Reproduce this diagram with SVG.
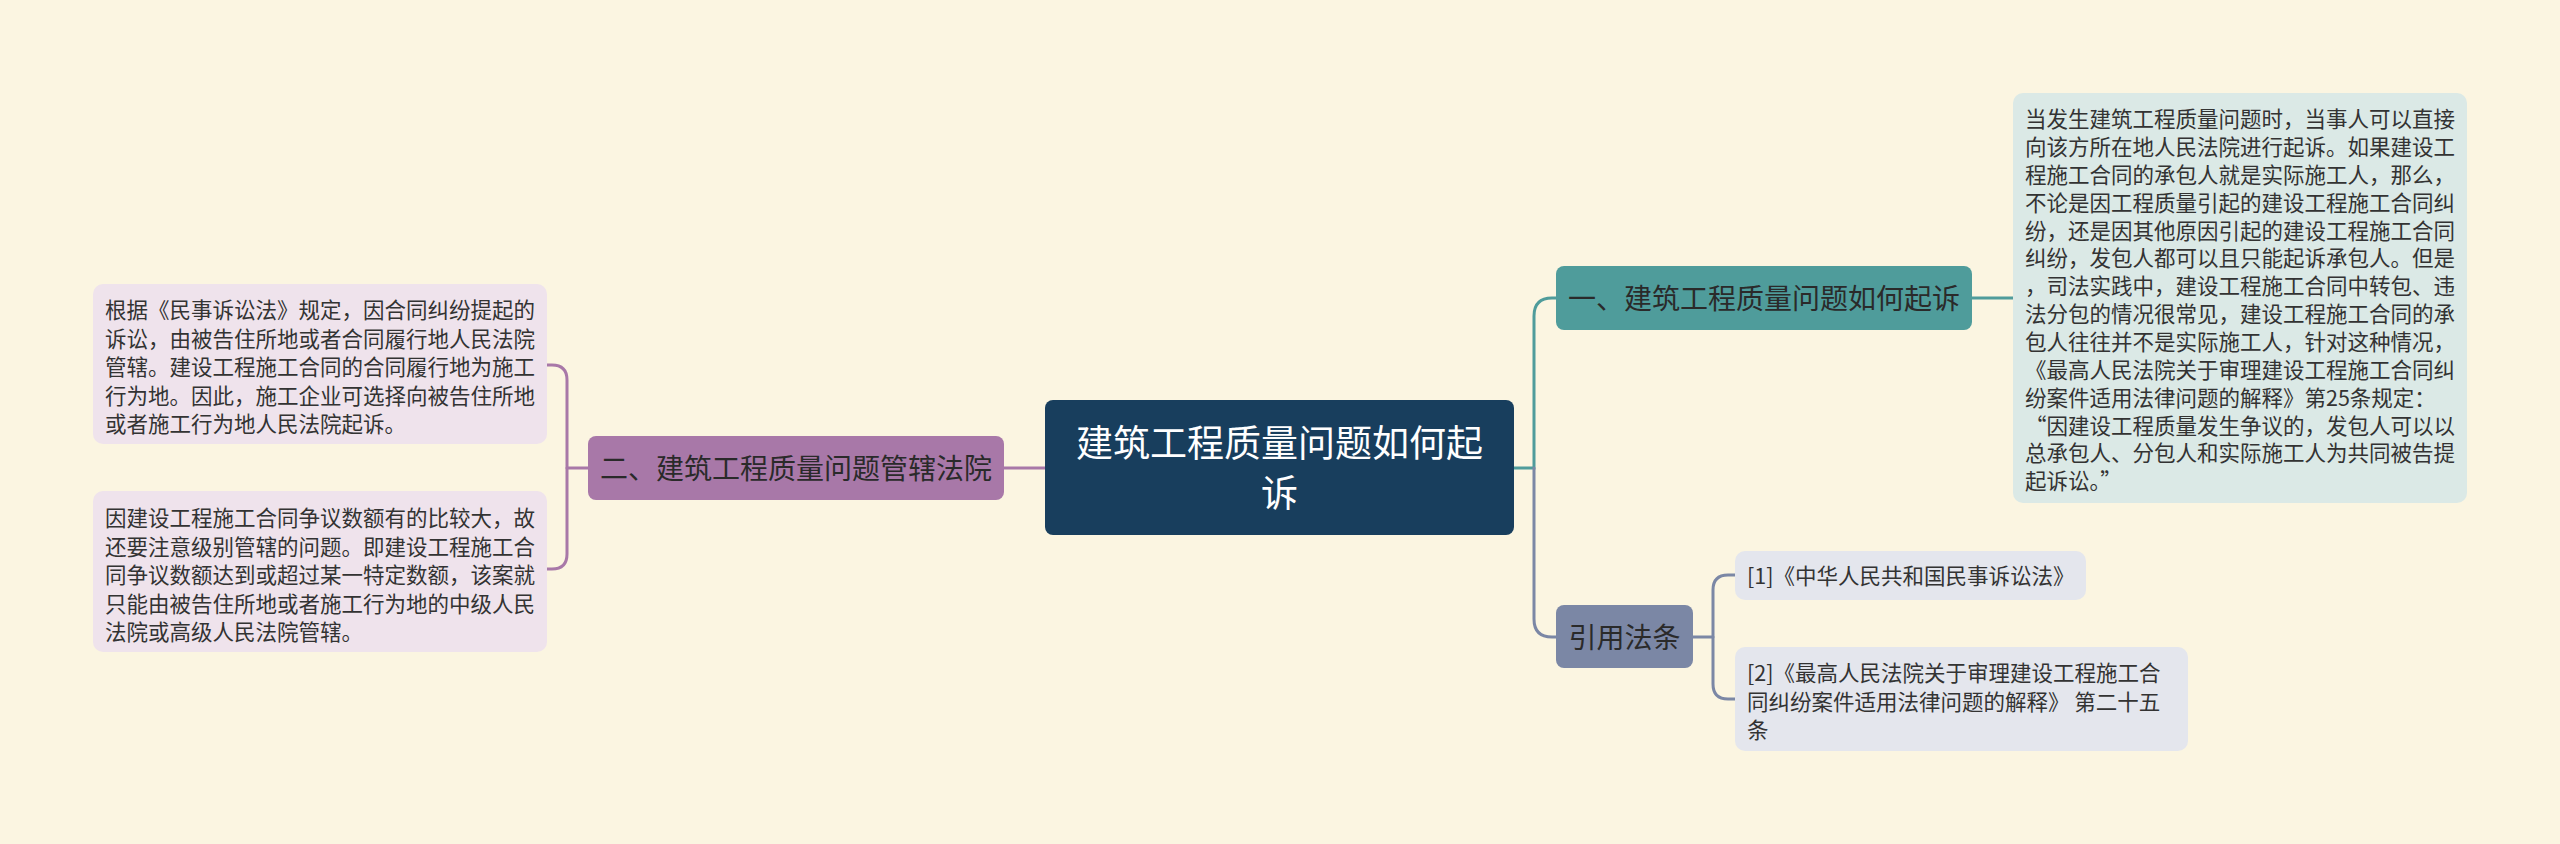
<svg xmlns="http://www.w3.org/2000/svg" width="2560" height="844" viewBox="0 0 2560 844">
<style>
text{font-family:"Noto Sans CJK SC","Noto Sans",sans-serif;}
.conn{fill:none;stroke-width:3;stroke-linecap:round;}
.p{stroke:#a878a8;}
.t{stroke:#4f9c9b;}
.g{stroke:#7b87a5;}
.body{font-size:21.5px;fill:#333333;}
.topic{font-size:28px;fill:#2a2a2a;text-anchor:middle;}
</style>
<rect x="0" y="0" width="2560" height="844" fill="#fbf5e1"/>
<g id="connectors">
<path class="conn p" d="M1004,468 H1045"/>
<path class="conn p" d="M588,468 H567"/>
<path class="conn p" d="M547,365 H552 Q567,365 567,380 V554 Q567,569 552,569 H547"/>
<path class="conn t" d="M1514,468 H1534 V316 Q1534,298 1552,298 H1556"/>
<path class="conn g" d="M1534,468 V619 Q1534,637 1552,637 H1556"/>
<path class="conn t" d="M1972,298 H2013"/>
<path class="conn g" d="M1693,637 H1713"/>
<path class="conn g" d="M1735,575 H1728 Q1713,575 1713,590 V684 Q1713,699 1728,699 H1735"/>
</g>
<g id="root">
<rect x="1045" y="400" width="469" height="135" rx="8" fill="#183e5d"/>
<text x="1279.5" y="457" font-size="37" fill="#ffffff" text-anchor="middle">建筑工程质量问题如何起</text>
<text x="1279.5" y="507" font-size="37" fill="#ffffff" text-anchor="middle">诉</text>
</g>
<g id="node-left">
<rect x="588" y="436" width="416" height="64" rx="8" fill="#a878a8"/>
<text class="topic" x="796" y="478.6">二、建筑工程质量问题管辖法院</text>
</g>
<g id="left-box-1">
<rect x="93" y="284" width="454" height="160" rx="10" fill="#efe3ec"/>
<text class="body" x="105" y="318.2">根据《民事诉讼法》规定，因合同纠纷提起的</text>
<text class="body" x="105" y="346.7">诉讼，由被告住所地或者合同履行地人民法院</text>
<text class="body" x="105" y="375.2">管辖。建设工程施工合同的合同履行地为施工</text>
<text class="body" x="105" y="403.7">行为地。因此，施工企业可选择向被告住所地</text>
<text class="body" x="105" y="432.2">或者施工行为地人民法院起诉。</text>
</g>
<g id="left-box-2">
<rect x="93" y="491" width="454" height="161" rx="10" fill="#efe3ec"/>
<text class="body" x="105" y="526.2">因建设工程施工合同争议数额有的比较大，故</text>
<text class="body" x="105" y="554.7">还要注意级别管辖的问题。即建设工程施工合</text>
<text class="body" x="105" y="583.2">同争议数额达到或超过某一特定数额，该案就</text>
<text class="body" x="105" y="611.7">只能由被告住所地或者施工行为地的中级人民</text>
<text class="body" x="105" y="640.2">法院或高级人民法院管辖。</text>
</g>
<g id="node-right-1">
<rect x="1556" y="266" width="416" height="64" rx="8" fill="#4f9c9b"/>
<text class="topic" x="1764" y="308.6">一、建筑工程质量问题如何起诉</text>
</g>
<g id="right-box">
<rect x="2013" y="93" width="454" height="410" rx="10" fill="#dbe9e6"/>
<text class="body" x="2025" y="127.2">当发生建筑工程质量问题时，当事人可以直接</text>
<text class="body" x="2025" y="155.05">向该方所在地人民法院进行起诉。如果建设工</text>
<text class="body" x="2025" y="182.9">程施工合同的承包人就是实际施工人，那么，</text>
<text class="body" x="2025" y="210.75">不论是因工程质量引起的建设工程施工合同纠</text>
<text class="body" x="2025" y="238.6">纷，还是因其他原因引起的建设工程施工合同</text>
<text class="body" x="2025" y="266.45">纠纷，发包人都可以且只能起诉承包人。但是</text>
<text class="body" x="2025" y="294.3">，司法实践中，建设工程施工合同中转包、违</text>
<text class="body" x="2025" y="322.15">法分包的情况很常见，建设工程施工合同的承</text>
<text class="body" x="2025" y="350">包人往往并不是实际施工人，针对这种情况，</text>
<text class="body" x="2025" y="377.85">《最高人民法院关于审理建设工程施工合同纠</text>
<text class="body" x="2025" y="405.7">纷案件适用法律问题的解释》第25条规定：</text>
<text class="body" x="2025" y="433.55">“因建设工程质量发生争议的，发包人可以以</text>
<text class="body" x="2025" y="461.4">总承包人、分包人和实际施工人为共同被告提</text>
<text class="body" x="2025" y="489.25">起诉讼。”</text>
</g>
<g id="node-right-2">
<rect x="1556" y="605" width="137" height="63" rx="8" fill="#7b87a5"/>
<text class="topic" x="1624.5" y="647.6">引用法条</text>
</g>
<g id="ref-1">
<rect x="1735" y="551" width="351" height="49" rx="10" fill="#e4e6ed"/>
<text class="body" x="1747" y="583.7">[1]《中华人民共和国民事诉讼法》</text>
</g>
<g id="ref-2">
<rect x="1735" y="647" width="453" height="104" rx="10" fill="#e4e6ed"/>
<text class="body" x="1747" y="681.2">[2]《最高人民法院关于审理建设工程施工合</text>
<text class="body" x="1747" y="709.7">同纠纷案件适用法律问题的解释》 第二十五</text>
<text class="body" x="1747" y="738.2">条</text>
</g>
</svg>
